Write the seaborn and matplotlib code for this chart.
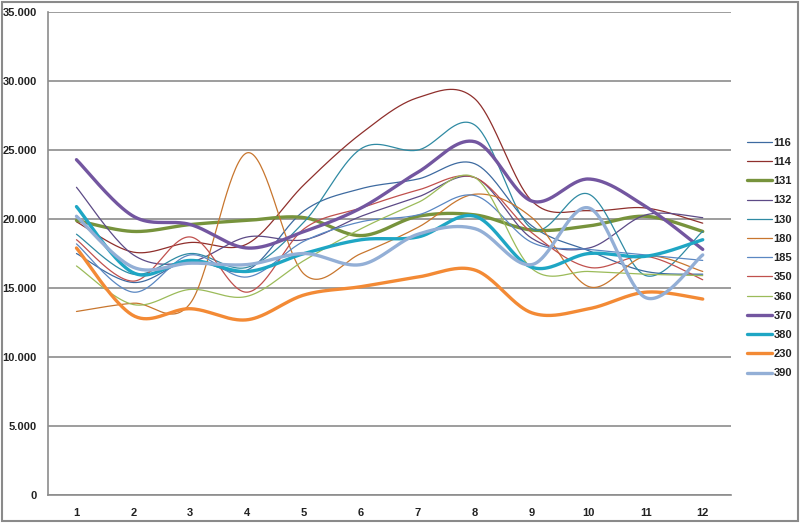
import numpy as np
import pandas as pd
import matplotlib
matplotlib.use("Agg")
import matplotlib.pyplot as plt
import seaborn as sns
from matplotlib.ticker import FuncFormatter, FixedLocator

# -------------------------------
# 1. Data
# -------------------------------
months = [1, 2, 3, 4, 5, 6, 7, 8, 9, 10, 11, 12]

s116 = [17500, 15400, 17000, 16300, 20600, 22200, 22900, 24000, 19500, 17700, 16200, 16000]
s114 = [19800, 17600, 18300, 18200, 22500, 26200, 28800, 28700, 21300, 20600, 20800, 19700]
s131 = [19900, 19100, 19600, 19900, 20100, 18800, 20200, 20300, 19200, 19500, 20200, 19100]
s132 = [22300, 17400, 16900, 18700, 18500, 20200, 21600, 23000, 18600, 17900, 20300, 20100]
s130 = [18900, 16000, 17500, 16500, 19800, 25100, 25000, 26800, 19300, 21800, 15900, 19100]
s180 = [13300, 13900, 13900, 24800, 16000, 17500, 19400, 21800, 20100, 15100, 17300, 16200]
s185 = [18200, 14700, 17400, 15800, 18400, 19800, 20300, 21700, 18300, 17800, 17400, 17000]
s350 = [18500, 15500, 18700, 14700, 19300, 20800, 22100, 23000, 19000, 16500, 17300, 15600]
s360 = [16600, 13800, 14900, 14400, 17000, 19300, 21200, 23000, 16400, 16200, 16000, 15900]
s370 = [24300, 20200, 19600, 17900, 19100, 20800, 23400, 25600, 21300, 22900, 20900, 17800]
s380 = [20900, 16100, 17000, 16200, 17500, 18500, 18700, 20200, 16500, 17500, 17300, 18500]
s230 = [17900, 13000, 13500, 12700, 14500, 15100, 15800, 16300, 13200, 13500, 14700, 14200]
s390 = [20200, 16500, 16800, 16700, 17500, 16700, 18900, 19300, 16700, 20800, 14300, 17400]

names = ["116", "114", "131", "132", "130", "180", "185",
         "350", "360", "370", "380", "230", "390"]
series = [s116, s114, s131, s132, s130, s180, s185,
          s350, s360, s370, s380, s230, s390]
colors = ["#3d6aa0", "#8f2f2c", "#77933c", "#5c4a86", "#2f8aa3", "#c8762e", "#5a87c2",
          "#c0504d", "#9bbb59", "#7356a0", "#1fa6c4", "#f38a35", "#93afd6"]
thick = {"131", "370", "380", "230", "390"}


# -------------------------------
# 2. Excel-style smoothing (Bezier through the points)
# -------------------------------
def smooth(x, y, n=40):
    pts = np.column_stack([x, y]).astype(float)
    P = np.vstack([pts[0], pts, pts[-1]])
    out = []
    t = np.linspace(0, 1, n)[:, None]
    for i in range(1, len(P) - 2):
        p0, p1, p2, p3 = P[i - 1], P[i], P[i + 1], P[i + 2]
        c1 = p1 + (p2 - p0) / 6
        c2 = p2 - (p3 - p1) / 6
        seg = (1 - t) ** 3 * p1 + 3 * (1 - t) ** 2 * t * c1 + 3 * (1 - t) * t ** 2 * c2 + t ** 3 * p2
        out.append(seg if i == 1 else seg[1:])
    return np.vstack(out)


# -------------------------------
# 3. Plot
# -------------------------------
sns.set_style("white")
plt.rcParams["font.family"] = ["Liberation Sans", "DejaVu Sans"]

fig = plt.figure(figsize=(8, 5.23), dpi=100)
ax = fig.add_axes([0.06, 0.0535, 0.854, 0.9235])

for name, vals, col in zip(names, series, colors):
    curve = smooth(months, vals)
    df = pd.DataFrame({"x": curve[:, 0], "y": curve[:, 1]})
    sns.lineplot(data=df, x="x", y="y", ax=ax, color=col, sort=False,
                 linewidth=2.4 if name in thick else 0.9, label=name)

ax.set_xlim(0.5, 12.5)
ax.set_ylim(0, 35000)
ax.set_yticks(np.arange(0, 35001, 5000))
ax.yaxis.set_major_formatter(FuncFormatter(lambda v, _: f"{int(v):,}".replace(",", ".")))
ax.set_xticks(months)
ax.xaxis.set_minor_locator(FixedLocator(np.arange(0.5, 12.6, 1)))
ax.tick_params(axis="x", which="major", length=0, pad=9)
ax.tick_params(axis="x", which="minor", length=5, color="#8c8c8c", width=1.2)
ax.tick_params(axis="y", length=5, color="#8c8c8c", width=1.2, pad=3)
for lab in ax.get_xticklabels() + ax.get_yticklabels():
    lab.set_fontsize(8)
    lab.set_fontweight("bold")
    lab.set_color("#222222")

ax.grid(axis="y", color="#8c8c8c", linewidth=1.2)
ax.set_axisbelow(True)
ax.set_xlabel("")
ax.set_ylabel("")
for side in ["top", "right"]:
    ax.spines[side].set_visible(False)
for side in ["left", "bottom"]:
    ax.spines[side].set_color("#8c8c8c")
    ax.spines[side].set_linewidth(1.2)

ax.legend_.remove()
handles, labels = ax.get_legend_handles_labels()
leg = fig.legend(handles, labels, loc="upper left", bbox_to_anchor=(0.928, 0.745),
                 frameon=False, fontsize=8, handlelength=2.3, handletextpad=0.1,
                 labelspacing=0.83, borderaxespad=0)
for txt in leg.get_texts():
    txt.set_fontweight("bold")
    txt.set_color("#222222")

# outer frame
fig.patches.append(plt.Rectangle((0.002, 0.003), 0.995, 0.994, transform=fig.transFigure,
                                 fill=False, edgecolor="#8a8a8a", linewidth=1.5))

fig.savefig("out.png", dpi=100)
